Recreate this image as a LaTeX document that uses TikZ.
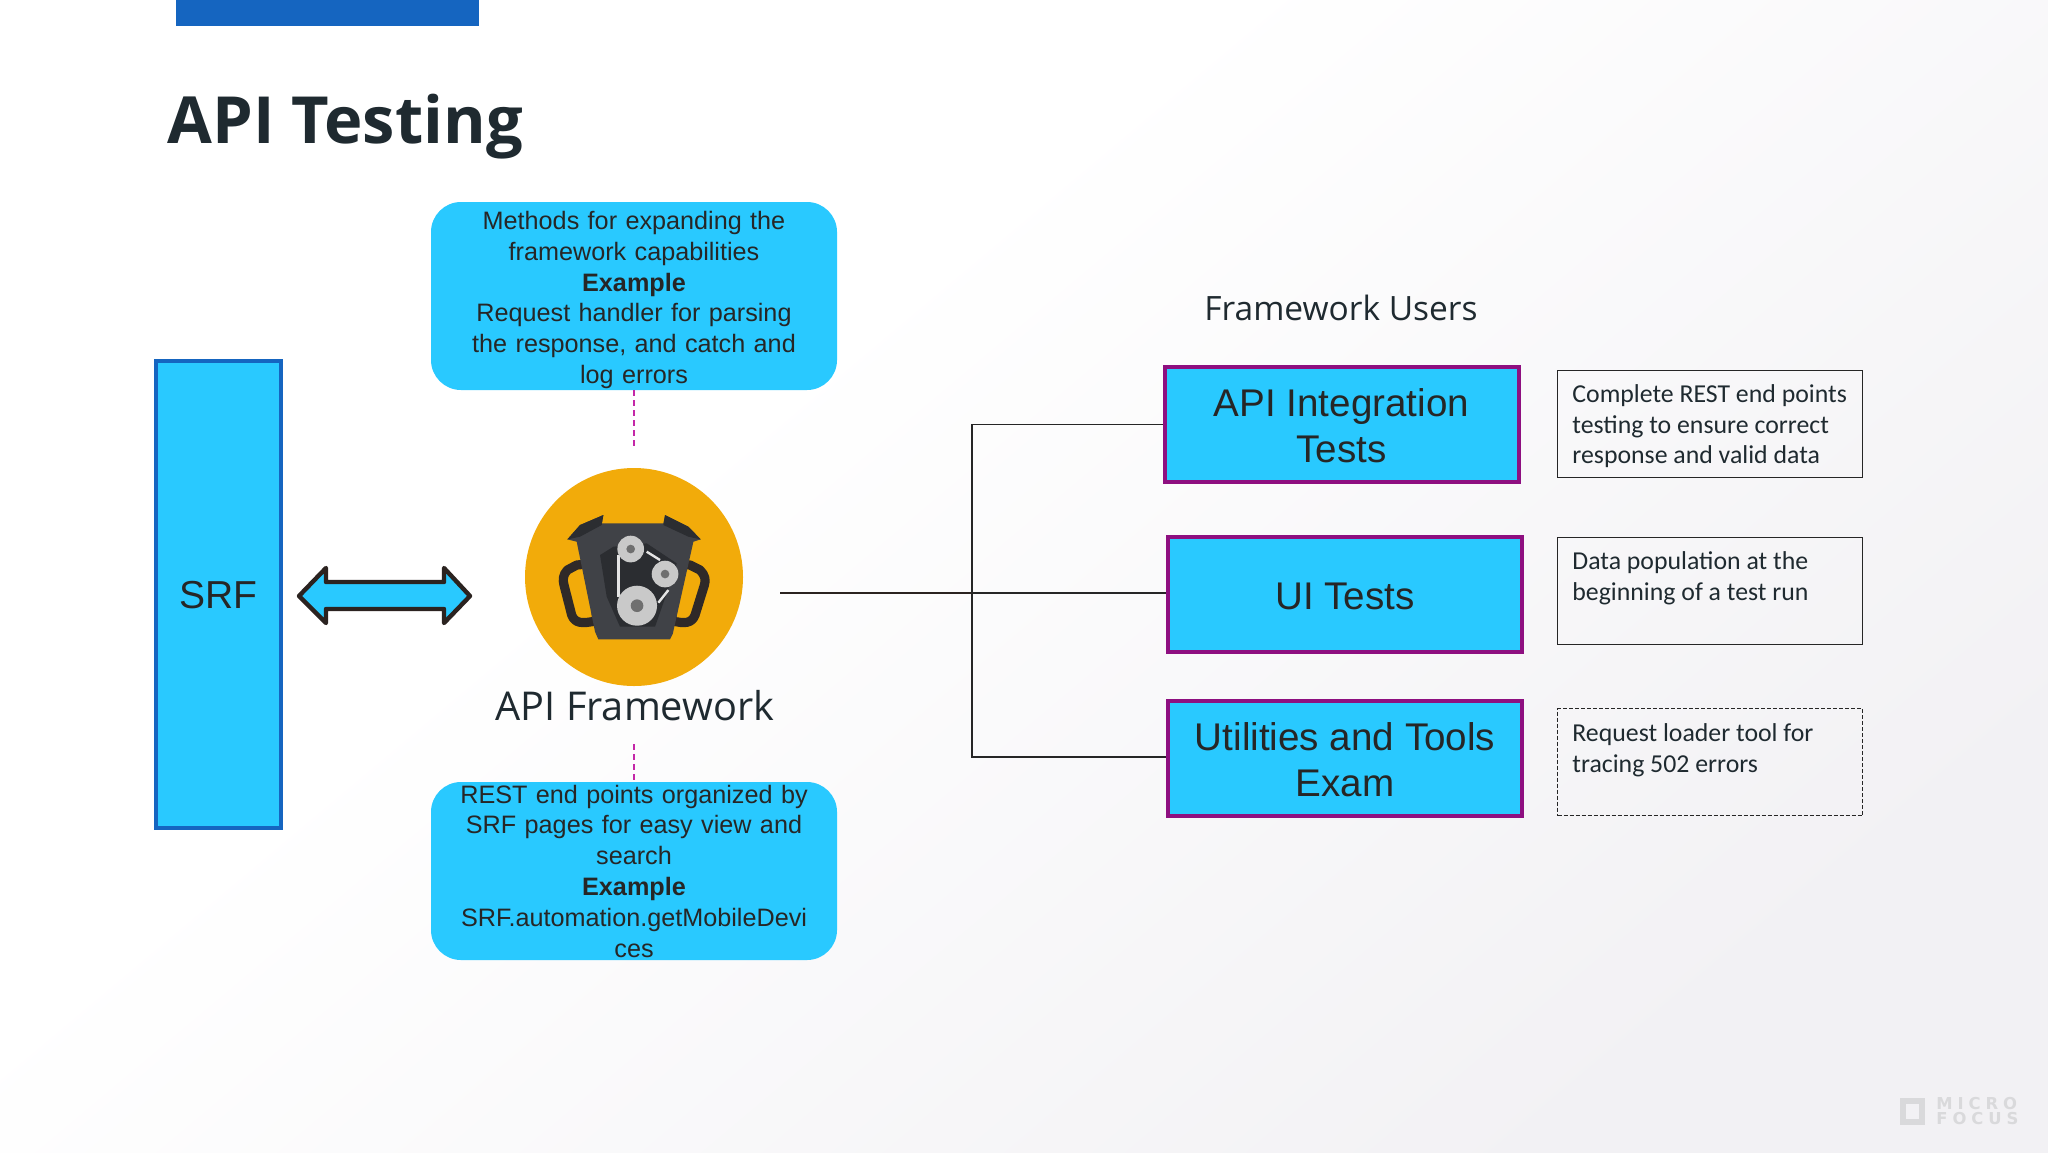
\documentclass[tikz,border=0pt]{standalone}
\usepackage{fontspec}
\setmainfont{Liberation Sans}
\newfontfamily\openf{Open Sans}
\newfontfamily\carl{Carlito}
\newfontfamily\logof[LetterSpace=30]{DejaVu Sans}
\definecolor{cyanbox}{HTML}{29C9FF}
\definecolor{bluebar}{HTML}{1565C0}
\definecolor{magbox}{HTML}{8E0F80}
\definecolor{dashc}{HTML}{C427A8}
\definecolor{inkc}{HTML}{1F2A30}
\definecolor{arrowk}{HTML}{2B2320}
\definecolor{engine}{HTML}{404247}
\definecolor{enginek}{HTML}{2B2D31}
\definecolor{orangec}{HTML}{F2AB0A}
\definecolor{pulley}{HTML}{C9C9C9}
\definecolor{hub}{HTML}{6F6F6F}
\definecolor{logoc}{HTML}{D9D9DB}
\definecolor{bgend}{HTML}{F2F1F4}
\pgfdeclareverticalshading{bgshade}{100bp}{color(0bp)=(bgend); color(25bp)=(bgend); color(60bp)=(white); color(100bp)=(white)}
\tikzset{
  callout/.style={fill=cyanbox,rounded corners=15pt,minimum width=203pt,text width=198pt,align=center,inner sep=0pt,text=black!85,font=\fontsize{12.6}{15.4}\selectfont,anchor=center},
  userbox/.style={fill=cyanbox,draw=magbox,line width=2pt,inner sep=0pt,minimum width=177pt,minimum height=57.5pt},
  usertext/.style={align=center,inner sep=0pt,text=black!85,font=\fontsize{19.3}{23}\selectfont},
  notebox/.style={draw=black!85,line width=.6pt,fill=none,inner sep=0pt,minimum width=152.5pt,minimum height=53.5pt},
  notetext/.style={font=\carl\fontsize{12.9}{15.4}\selectfont,text=inkc,align=left,anchor=north west,inner sep=0pt},
  dashlink/.style={draw=dashc,line width=.6pt,dashed,dash pattern=on 3pt off 2pt},
  treelink/.style={draw=black!85,line width=.6pt},
  trunklink/.style={draw=arrowk,line width=1.2pt},
  logotext/.style={font=\logof\bfseries\fontsize{8.2}{9}\selectfont,text=logoc,anchor=west,inner sep=0pt},
}
\begin{document}
\begin{tikzpicture}[x=.5pt,y=-.5pt]
\useasboundingbox (0,0) rectangle (2048,1152);
\shade[shading=bgshade,shading angle=40] (0,0) rectangle (2048,1152);
% top bar and title
\fill[bluebar] (176,0) rectangle (479,26);
\node[font=\openf\bfseries\fontsize{32.5}{36}\selectfont,text=inkc,anchor=west,inner sep=0pt] (title) at (167,126.5) {API Testing};
% SRF
\node[fill=cyanbox,draw=bluebar,line width=2pt,minimum width=62.5pt,minimum height=233.5pt,inner sep=0pt] (srf) at (218.5,594) {};
\node[font=\fontsize{19.5}{23}\selectfont,text=black!85,inner sep=0pt] (srft) at (218.5,595.5) {SRF};
% double arrow
\draw[fill=cyanbox,draw=arrowk,line width=2.2pt,line join=round]
 (299,596) -- (326,568) -- (326,582) -- (444,582) -- (444,568) -- (470,596) -- (444,623) -- (444,609) -- (326,609) -- (326,623) -- cycle;
% callouts
\node[callout,minimum height=94pt] (top) at (634,296) {};
\node[callout,fill=none] (toptext) at (634,300) {Methods for expanding the\\framework capabilities\\\textbf{Example}\\Request handler for parsing\\the response, and catch and\\log errors};
\node[callout,minimum height=89pt] (bot) at (634,871) {REST end points organized by\\SRF pages for easy view and\\search\\\textbf{Example}\\SRF.automation.getMobileDevi\\ces};
% framework circle
\node[circle,fill=orangec,minimum size=109pt,inner sep=0pt] (fw) at (634,577) {};
\begin{scope}[shift={(480,430)},x=.1667pt,y=-.1667pt]
 % handles
 \draw[arrowk!80!engine,line width=4.6pt,line join=round,fill=orangec] (290,405) -- (262,420) .. controls (248,435) and (248,450) .. (252,465) -- (275,555) .. controls (285,580) and (305,582) .. (350,572) -- (340,400) -- cycle;
 \draw[arrowk!80!engine,line width=4.6pt,line join=round,fill=orangec] (630,405) -- (660,420) .. controls (675,435) and (678,450) .. (673,465) -- (645,555) .. controls (635,580) and (615,582) .. (575,572) -- (590,400) -- cycle;
 % body
 \fill[engine] (262,328) -- (300,285) -- (370,255) -- (365,280) -- (550,280) -- (555,255) -- (625,290) -- (662,328) -- (640,335) -- (578,612) -- (570,628) -- (355,628) -- (345,605) -- (290,335) -- cycle;
 \fill[enginek] (360,375) -- (400,350) -- (500,340) -- (590,400) -- (560,490) -- (525,590) -- (420,590) -- (380,500) -- cycle;
 \fill[enginek] (262,328) -- (300,285) -- (370,255) -- (365,285) -- (300,320) -- cycle;
 \fill[enginek] (662,328) -- (625,290) -- (555,255) -- (550,285) -- (625,320) -- cycle;
 % belts
 \draw[white!90!black,line width=1.2pt] (415,375) -- (415,500);
 \draw[white!90!black,line width=1.2pt] (500,365) -- (540,390);
 \draw[white!90!black,line width=1.2pt] (565,480) -- (535,518);
 % pulleys
 \fill[pulley] (452,357) circle[radius=40];
 \fill[hub] (452,357) circle[radius=13];
 \fill[pulley] (555,432) circle[radius=40];
 \fill[hub] (555,432) circle[radius=13];
 \fill[pulley] (471,527) circle[radius=60];
 \fill[hub] (471,527) circle[radius=19];
\end{scope}
\node[font=\openf\fontsize{19.85}{24}\selectfont,text=inkc,inner sep=0pt] (fwl) at (635,706) {API Framework};
% dashed links
\coordinate (topend) at (634,448);
\coordinate (botend) at (634,744);
\draw[dashlink] (top.south) -- (topend);
\draw[dashlink] (botend) -- (bot.north);
% users
\node[font=\openf\fontsize{16.75}{20}\selectfont,text=inkc,inner sep=0pt] (fu) at (1341,308) {Framework Users};
\node[userbox] (u1) at (1341.5,424.5) {};
\node[usertext] (u1t) at (1341.5,425.5) {API Integration\\Tests};
\node[userbox] (u2) at (1345,594.5) {};
\node[usertext] (u2t) at (1345,596) {UI Tests};
\node[userbox] (u3) at (1345,758) {};
\node[usertext] (u3t) at (1345,760) {Utilities and Tools\\Exam};
% notes
\node[notebox] (n1) at (1710,424) {};
\node[notebox] (n2) at (1710,591) {};
\node[notebox,dashed,dash pattern=on 2pt off 1pt] (n3) at (1710,762) {};
\node[notetext] (t1) at (1572,384) {Complete REST end points\\testing to ensure correct\\response and valid data};
\node[notetext] (t2) at (1572,551) {Data population at the\\beginning of a test run};
\node[notetext] (t3) at (1572,723) {Request loader tool for\\tracing 502 errors};
% tree
\coordinate (start) at (780,593);
\coordinate (junction) at (972,593);
\coordinate (jtop) at (972,424.5);
\coordinate (jbot) at (972,757);
\draw[trunklink] (start) -- (junction);
\draw[treelink] (u1.west) -- (jtop) -- (jbot) -- (u3.west |- jbot);
\draw[treelink] (junction) -- (u2.west |- junction);
% logo
\draw[logoc,line width=3pt] (1903,1101) rectangle (1922,1122);
\node[logotext] (lg1) at (1936,1104) {MICRO};
\node[logotext] (lg2) at (1936,1119) {FOCUS};
\end{tikzpicture}
\end{document}
